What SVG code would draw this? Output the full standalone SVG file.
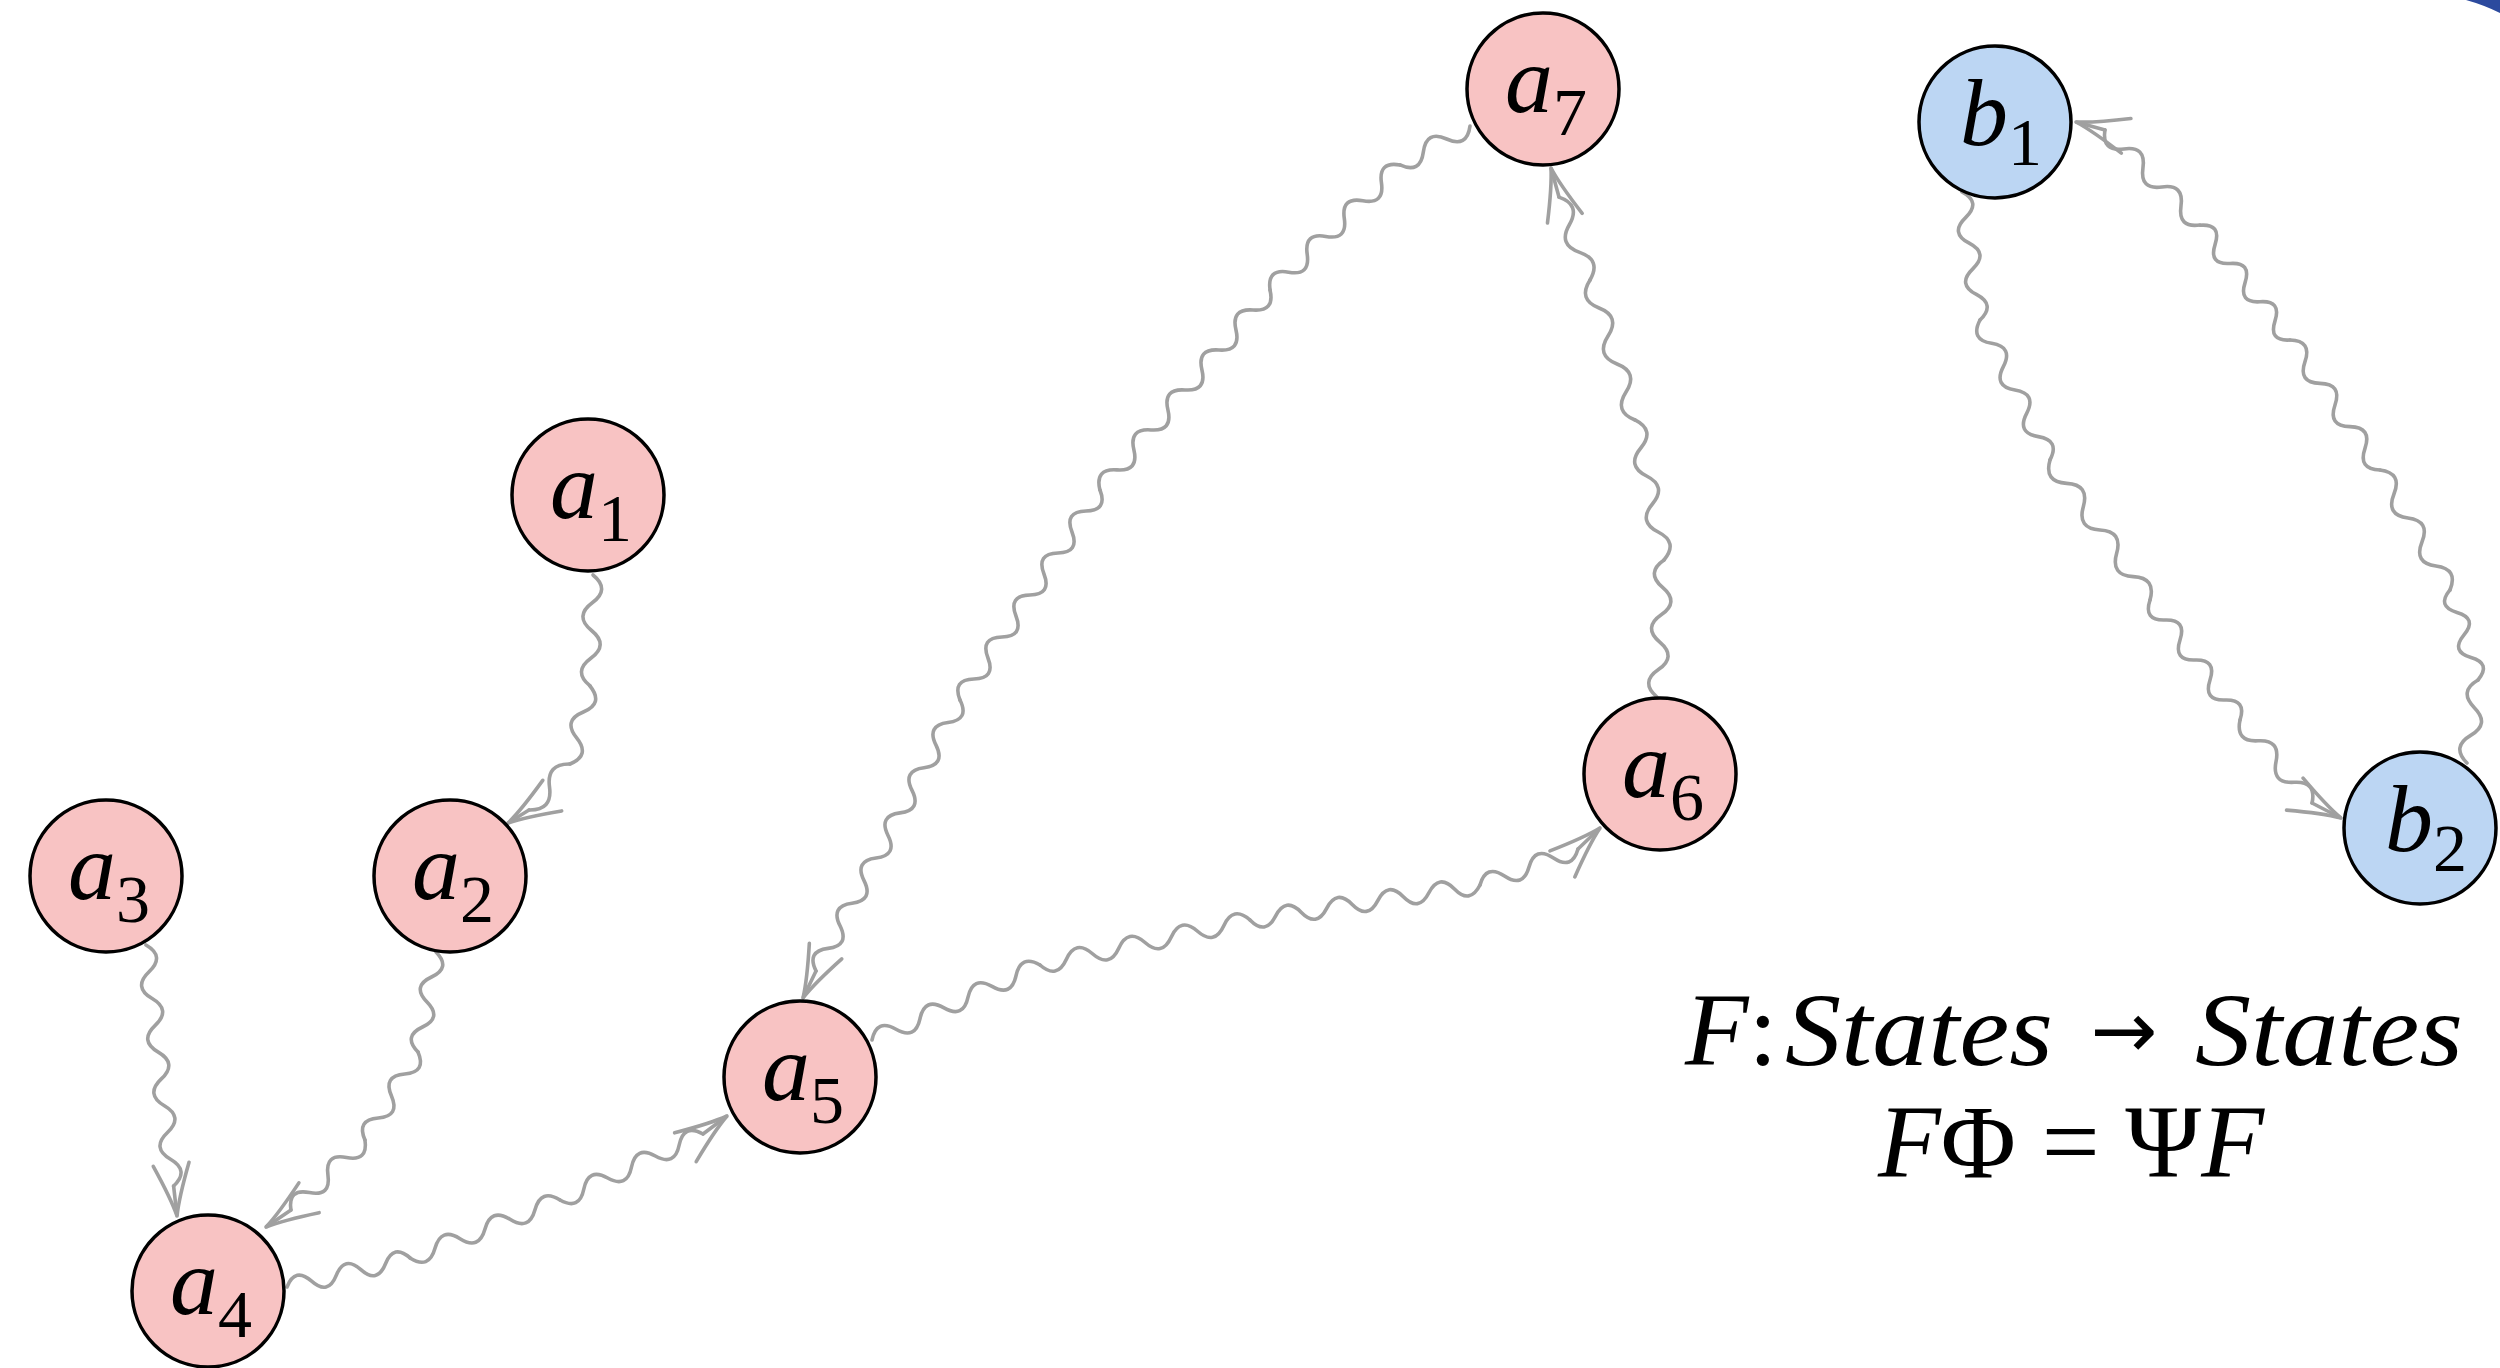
<svg xmlns="http://www.w3.org/2000/svg" width="2500" height="1368" viewBox="0 0 2500 1368">
<defs>
<style>
.edge path{fill:none;stroke:#a0a0a0;stroke-width:3.6;stroke-linecap:round;stroke-linejoin:round}
.na circle{fill:#f8c3c3;stroke:#000;stroke-width:3.5}
.nb circle{fill:#bcd6f3;stroke:#000;stroke-width:3.5}
.lbl{font-family:"Liberation Serif","DejaVu Serif",serif;font-style:italic;font-size:96px;fill:#000}
.sub{font-style:normal;font-size:68px}
.eq{font-family:"Liberation Serif","DejaVu Serif",serif;font-size:104px;fill:#000}
.it{font-style:italic}
.ar{font-family:"DejaVu Sans",sans-serif;font-size:80px;fill:#000;text-anchor:middle}
</style>
<marker id="arr" markerUnits="userSpaceOnUse" markerWidth="70" markerHeight="50" viewBox="-60 -25 70 50" refX="0" refY="0" orient="auto" overflow="visible">
<path d="M-52 -18 Q-18 -4 0 0 Q-18 4 -52 18" fill="none" stroke="#a0a0a0" stroke-width="3.6" stroke-linecap="round"/>
</marker>
</defs>
<rect width="2500" height="1368" fill="#fff"/>
<path d="M2466 0 Q2484 5 2500 13 L2500 0 Z" fill="#2c4a9e"/>
<g id="connectors" class="edge">
<g id="e-a1-a2">
<path transform="translate(593,575) rotate(91.5)" d="M0 0q13.875 -18 27.75 0t27.75 0t27.75 0t27.75 0"/>
<path transform="translate(590,686) rotate(104.4)" d="M0 0q13.42 -18 26.83 0t26.83 0t26.83 0"/>
<path transform="translate(570,764) rotate(131.7)" d="M0 0q15.4 18 30.8 0t30.8 0"/>
<path d="M529 810L508 823" marker-end="url(#arr)"/>
</g>
<g id="e-a3-a4">
<path transform="translate(146,945) rotate(83.47)" d="M0 0q13.48 -18 26.96 0t26.96 0t26.96 0t26.96 0t26.96 0t26.96 0t26.96 0t26.96 0t26.96 0"/>
<path d="M173.6 1186L177 1216" marker-end="url(#arr)"/>
</g>
<g id="e-a2-a4">
<path transform="translate(436,952) rotate(100.2)" d="M0 0q12.7 -18 25.4 0t25.4 0t25.4 0t25.4 0"/>
<path transform="translate(418,1052) rotate(121.06)" d="M0 0q12.85 -18 25.7 0t25.7 0t25.7 0t25.7 0"/>
<path transform="translate(365,1140) rotate(136.6)" d="M0 0q12.75 -18 25.5 0t25.5 0t25.5 0t25.5 0"/>
<path d="M291 1210L266 1227" marker-end="url(#arr)"/>
</g>
<g id="e-a4-a5">
<path transform="translate(287,1287) rotate(-13.27)" d="M0 0q12.65 -18 25.3 0t25.3 0t25.3 0t25.3 0t25.3 0"/>
<path transform="translate(410,1258) rotate(-21.14)" d="M0 0q13.4 18 26.8 0t26.8 0t26.8 0t26.8 0t26.8 0t26.8 0"/>
<path transform="translate(560,1200) rotate(-24.78)" d="M0 0q13.125 18 26.25 0t26.25 0t26.25 0t26.25 0t26.25 0t26.25 0"/>
<path d="M703 1134L727 1116" marker-end="url(#arr)"/>
</g>
<g id="e-a5-a6">
<path transform="translate(872,1040) rotate(-24.06)" d="M0 0q13.145 -18 26.29 0t26.29 0t26.29 0t26.29 0t26.29 0t26.29 0t26.29 0"/>
<path transform="translate(1040,965) rotate(-12.09)" d="M0 0q13.425 18 26.85 0t26.85 0t26.85 0t26.85 0t26.85 0t26.85 0t26.85 0t26.85 0"/>
<path transform="translate(1250,920) rotate(-8.65)" d="M0 0q12.925 18 25.85 0t25.85 0t25.85 0t25.85 0t25.85 0t25.85 0t25.85 0t25.85 0t25.85 0"/>
<path transform="translate(1480,885) rotate(-20.17)" d="M0 0q13.05 -18 26.1 0t26.1 0t26.1 0t26.1 0"/>
<path d="M1578 849L1600 828" marker-end="url(#arr)"/>
</g>
<g id="e-a6-a7">
<path transform="translate(1657,697) rotate(-87.07)" d="M0 0q13.72 -18 27.44 0t27.44 0t27.44 0t27.44 0t27.44 0"/>
<path transform="translate(1664,560) rotate(-101.7)" d="M0 0q14.3 18 28.6 0t28.6 0t28.6 0t28.6 0t28.6 0"/>
<path transform="translate(1635,420) rotate(-107.8)" d="M0 0q14.7 -18 29.4 0t29.4 0t29.4 0t29.4 0t29.4 0"/>
<path transform="translate(1590,280) rotate(-110.5)" d="M0 0q14.75 18 29.5 0t29.5 0t29.5 0"/>
<path d="M1559 197L1551 168" marker-end="url(#arr)"/>
</g>
<g id="e-a7-a5">
<path transform="translate(1470,126) rotate(150.9)" d="M0 0q13.35 -18 26.7 0t26.7 0t26.7 0"/>
<path transform="translate(1400,165) rotate(136.1)" d="M0 0q12.88 18 25.76 0t25.76 0t25.76 0t25.76 0t25.76 0t25.76 0t25.76 0"/>
<path transform="translate(1270,290) rotate(130.4)" d="M0 0q13.125 -18 26.25 0t26.25 0t26.25 0t26.25 0t26.25 0t26.25 0t26.25 0t26.25 0t26.25 0t26.25 0"/>
<path transform="translate(1100,490) rotate(123.7)" d="M0 0q12.62 -18 25.24 0t25.24 0t25.24 0t25.24 0t25.24 0t25.24 0t25.24 0t25.24 0t25.24 0t25.24 0"/>
<path transform="translate(960,700) rotate(117.98)" d="M0 0q12.785 -18 25.57 0t25.57 0t25.57 0t25.57 0t25.57 0t25.57 0t25.57 0t25.57 0t25.57 0t25.57 0t25.57 0t25.57 0"/>
<path d="M816 971L803 998" marker-end="url(#arr)"/>
</g>
<g id="e-b1-b2">
<path transform="translate(1962,192) rotate(82)" d="M0 0q12.93 -18 25.86 0t25.86 0t25.86 0t25.86 0t25.86 0"/>
<path transform="translate(1980,320) rotate(63.43)" d="M0 0q13.04 18 26.08 0t26.08 0t26.08 0t26.08 0t26.08 0t26.08 0"/>
<path transform="translate(2050,460) rotate(54.46)" d="M0 0q14.335 18 28.67 0t28.67 0t28.67 0t28.67 0t28.67 0t28.67 0"/>
<path transform="translate(2150,600) rotate(53.13)" d="M0 0q12.5 18 25 0t25 0t25 0t25 0t25 0t25 0"/>
<path transform="translate(2240,720) rotate(49.06)" d="M0 0q13.75 18 27.5 0t27.5 0t27.5 0t27.5 0"/>
<path d="M2312 803L2341 818" marker-end="url(#arr)"/>
</g>
<g id="e-b2-b1">
<path transform="translate(2467,763) rotate(-82.45)" d="M0 0q13.95 -18 27.9 0t27.9 0t27.9 0"/>
<path transform="translate(2478,680) rotate(-107.28)" d="M0 0q11.8 18 23.6 0t23.6 0t23.6 0t23.6 0"/>
<path transform="translate(2450,590) rotate(-120.26)" d="M0 0q13.9 18 27.8 0t27.8 0t27.8 0t27.8 0t27.8 0"/>
<path transform="translate(2380,470) rotate(-124.7)" d="M0 0q13.175 -18 26.35 0t26.35 0t26.35 0t26.35 0t26.35 0t26.35 0"/>
<path transform="translate(2290,340) rotate(-128.05)" d="M0 0q12.15 -18 24.3 0t24.3 0t24.3 0t24.3 0t24.3 0t24.3 0"/>
<path transform="translate(2200,225) rotate(-135)" d="M0 0q13.45 -18 26.9 0t26.9 0t26.9 0t26.9 0t26.9 0"/>
<path d="M2105 130L2076 122" marker-end="url(#arr)"/>
</g>
</g>
<g id="a1" class="na"><circle cx="588" cy="495" r="76"/><text class="lbl" x="550" y="518">a<tspan class="sub" dy="23">1</tspan></text></g>
<g id="a2" class="na"><circle cx="450" cy="876" r="76"/><text class="lbl" x="412" y="899">a<tspan class="sub" dy="23">2</tspan></text></g>
<g id="a3" class="na"><circle cx="106" cy="876" r="76"/><text class="lbl" x="68" y="899">a<tspan class="sub" dy="23">3</tspan></text></g>
<g id="a4" class="na"><circle cx="208" cy="1291" r="76"/><text class="lbl" x="170" y="1314">a<tspan class="sub" dy="23">4</tspan></text></g>
<g id="a5" class="na"><circle cx="800" cy="1077" r="76"/><text class="lbl" x="762" y="1100">a<tspan class="sub" dy="23">5</tspan></text></g>
<g id="a6" class="na"><circle cx="1660" cy="774" r="76"/><text class="lbl" x="1622" y="797">a<tspan class="sub" dy="23">6</tspan></text></g>
<g id="a7" class="na"><circle cx="1543" cy="89" r="76"/><text class="lbl" x="1505" y="112">a<tspan class="sub" dy="23">7</tspan></text></g>
<g id="b1" class="nb"><circle cx="1995" cy="122" r="76"/><text class="lbl" x="1960" y="145">b<tspan class="sub" dy="20">1</tspan></text></g>
<g id="b2" class="nb"><circle cx="2420" cy="828" r="76"/><text class="lbl" x="2385" y="851">b<tspan class="sub" dy="20">2</tspan></text></g>
<g id="equation">
<text class="eq" x="1685" y="1065"><tspan class="it">F</tspan>:</text>
<text class="eq it" x="1785" y="1065" textLength="268" lengthAdjust="spacingAndGlyphs">States</text>
<text class="ar" x="2124" y="1058">→</text>
<text class="eq it" x="2195" y="1065" textLength="268" lengthAdjust="spacingAndGlyphs">States</text>
<text class="eq" x="1878" y="1177" textLength="386" lengthAdjust="spacingAndGlyphs"><tspan class="it">F</tspan>Φ = Ψ<tspan class="it">F</tspan></text>
</g>
</svg>
